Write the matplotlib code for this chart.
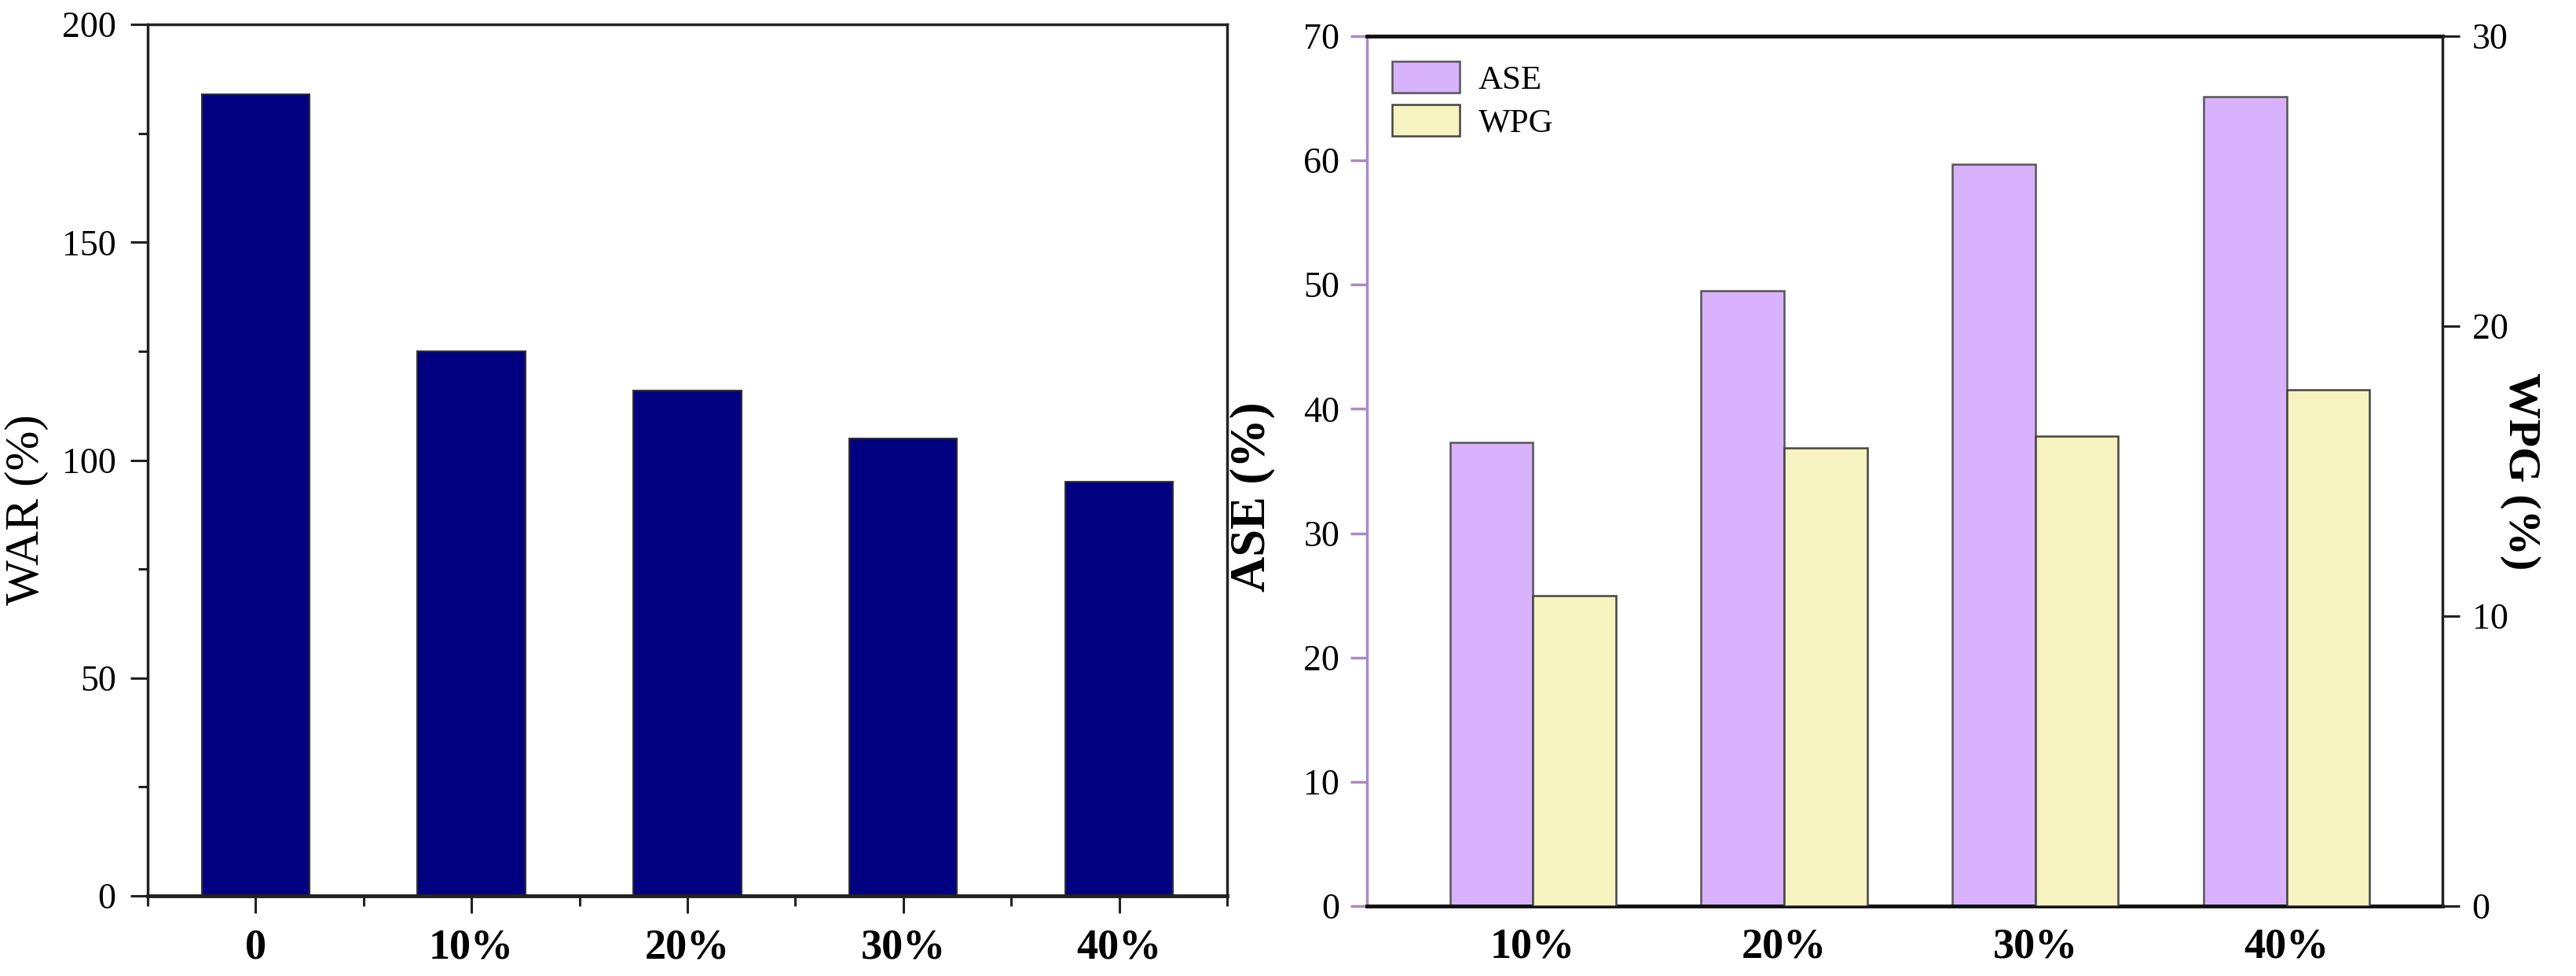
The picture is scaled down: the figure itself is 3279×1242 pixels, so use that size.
import matplotlib
matplotlib.use("Agg")
import matplotlib.pyplot as plt
from matplotlib.ticker import FixedLocator, MultipleLocator

plt.rcParams["font.family"] = ["Liberation Serif", "DejaVu Serif"]

# left panel: water absorption
war_labels = ["0", "10%", "20%", "30%", "40%"]
war_values = [184, 125, 116, 105, 95]

# right panel: anti-swelling efficiency and weight percent gain
mod_labels = ["10%", "20%", "30%", "40%"]
ase_values = [37.3, 49.5, 59.7, 65.1]
wpg_values = [10.7, 15.8, 16.2, 17.8]

NAVY = "#000080"
ASE_COLOR = "#d8b2fc"
WPG_COLOR = "#f7f3c0"
PURPLE_AX = "#a88bc7"

fig = plt.figure(figsize=(32.8, 12.42), dpi=100)

# ---- left panel
ax1 = fig.add_axes([0.0573, 0.0821, 0.4189, 0.8929])
x1 = list(range(len(war_labels)))
ax1.bar(x1, war_values, width=0.5, color=NAVY, edgecolor="#333333", linewidth=1.5)
ax1.set_xlim(-0.5, 4.5)
ax1.set_ylim(0, 200)
ax1.set_xticks(x1)
ax1.set_xticklabels(war_labels, fontsize=39, fontweight="bold")
ax1.xaxis.set_minor_locator(FixedLocator([-0.5, 0.5, 1.5, 2.5, 3.5, 4.5]))
ax1.yaxis.set_major_locator(MultipleLocator(50))
ax1.yaxis.set_minor_locator(MultipleLocator(25))
ax1.tick_params(axis="both", which="major", direction="out", length=16, width=2.2,
                labelsize=33, pad=13, color="#222222")
ax1.tick_params(axis="both", which="minor", direction="out", length=9, width=2.2,
                color="#222222")
ax1.tick_params(axis="x", which="major", labelsize=39, pad=14)
for s in ax1.spines.values():
    s.set_linewidth(2.5)
    s.set_color("#222222")
ax1.spines["bottom"].set_linewidth(3.5)
ax1.set_ylabel("WAR (%)", fontsize=44)
ax1.yaxis.set_label_coords(-0.092, 0.443)

# ---- right panel
ax2 = fig.add_axes([0.5305, 0.0717, 0.4174, 0.8913])
ax3 = ax2.twinx()
x2 = list(range(len(mod_labels)))
w = 0.33
b_ase = ax2.bar([i - w / 2 for i in x2], ase_values, width=w, color=ASE_COLOR,
                edgecolor="#555555", linewidth=1.8, label="ASE")
b_wpg = ax3.bar([i + w / 2 for i in x2], wpg_values, width=w, color=WPG_COLOR,
                edgecolor="#444444", linewidth=1.8, label="WPG")
ax2.set_xlim(-0.66, 3.62)
ax2.set_ylim(0, 70)
ax3.set_ylim(0, 30)
ax2.set_xticks(x2)
ax2.set_xticklabels(mod_labels, fontsize=39, fontweight="bold")
ax2.yaxis.set_major_locator(MultipleLocator(10))
ax3.yaxis.set_major_locator(MultipleLocator(10))
ax2.tick_params(axis="x", length=0, pad=20, labelsize=39)
ax2.tick_params(axis="y", direction="out", length=15, width=2.5, color=PURPLE_AX,
                labelsize=33, pad=10)
ax3.tick_params(axis="y", direction="out", length=16, width=2.2, color="#222222",
                labelsize=33, pad=11)

ax2.spines["left"].set_color(PURPLE_AX)
ax2.spines["left"].set_linewidth(2.5)
ax2.spines["right"].set_visible(False)
for name in ["top", "bottom"]:
    ax2.spines[name].set_linewidth(3.5)
    ax2.spines[name].set_color("#111111")
ax3.spines["left"].set_visible(False)
ax3.spines["top"].set_visible(False)
ax3.spines["bottom"].set_visible(False)
ax3.spines["right"].set_linewidth(2.5)
ax3.spines["right"].set_color("#222222")

ax2.set_ylabel("ASE (%)", fontsize=45, fontweight="bold")
ax2.yaxis.set_label_coords(-0.085, 0.47)
ax3.set_ylabel("WPG (%)", fontsize=42, fontweight="bold", rotation=270)
ax3.yaxis.set_label_coords(1.091, 0.50)

ax3.legend([b_ase, b_wpg], ["ASE", "WPG"], loc="upper left",
           bbox_to_anchor=(0.0, 1.0), frameon=False, fontsize=31,
           handlelength=2.0, handleheight=1.05, handletextpad=0.55,
           labelspacing=0.25, borderpad=0.45, borderaxespad=0.3)

fig.savefig("out.png", dpi=100)
